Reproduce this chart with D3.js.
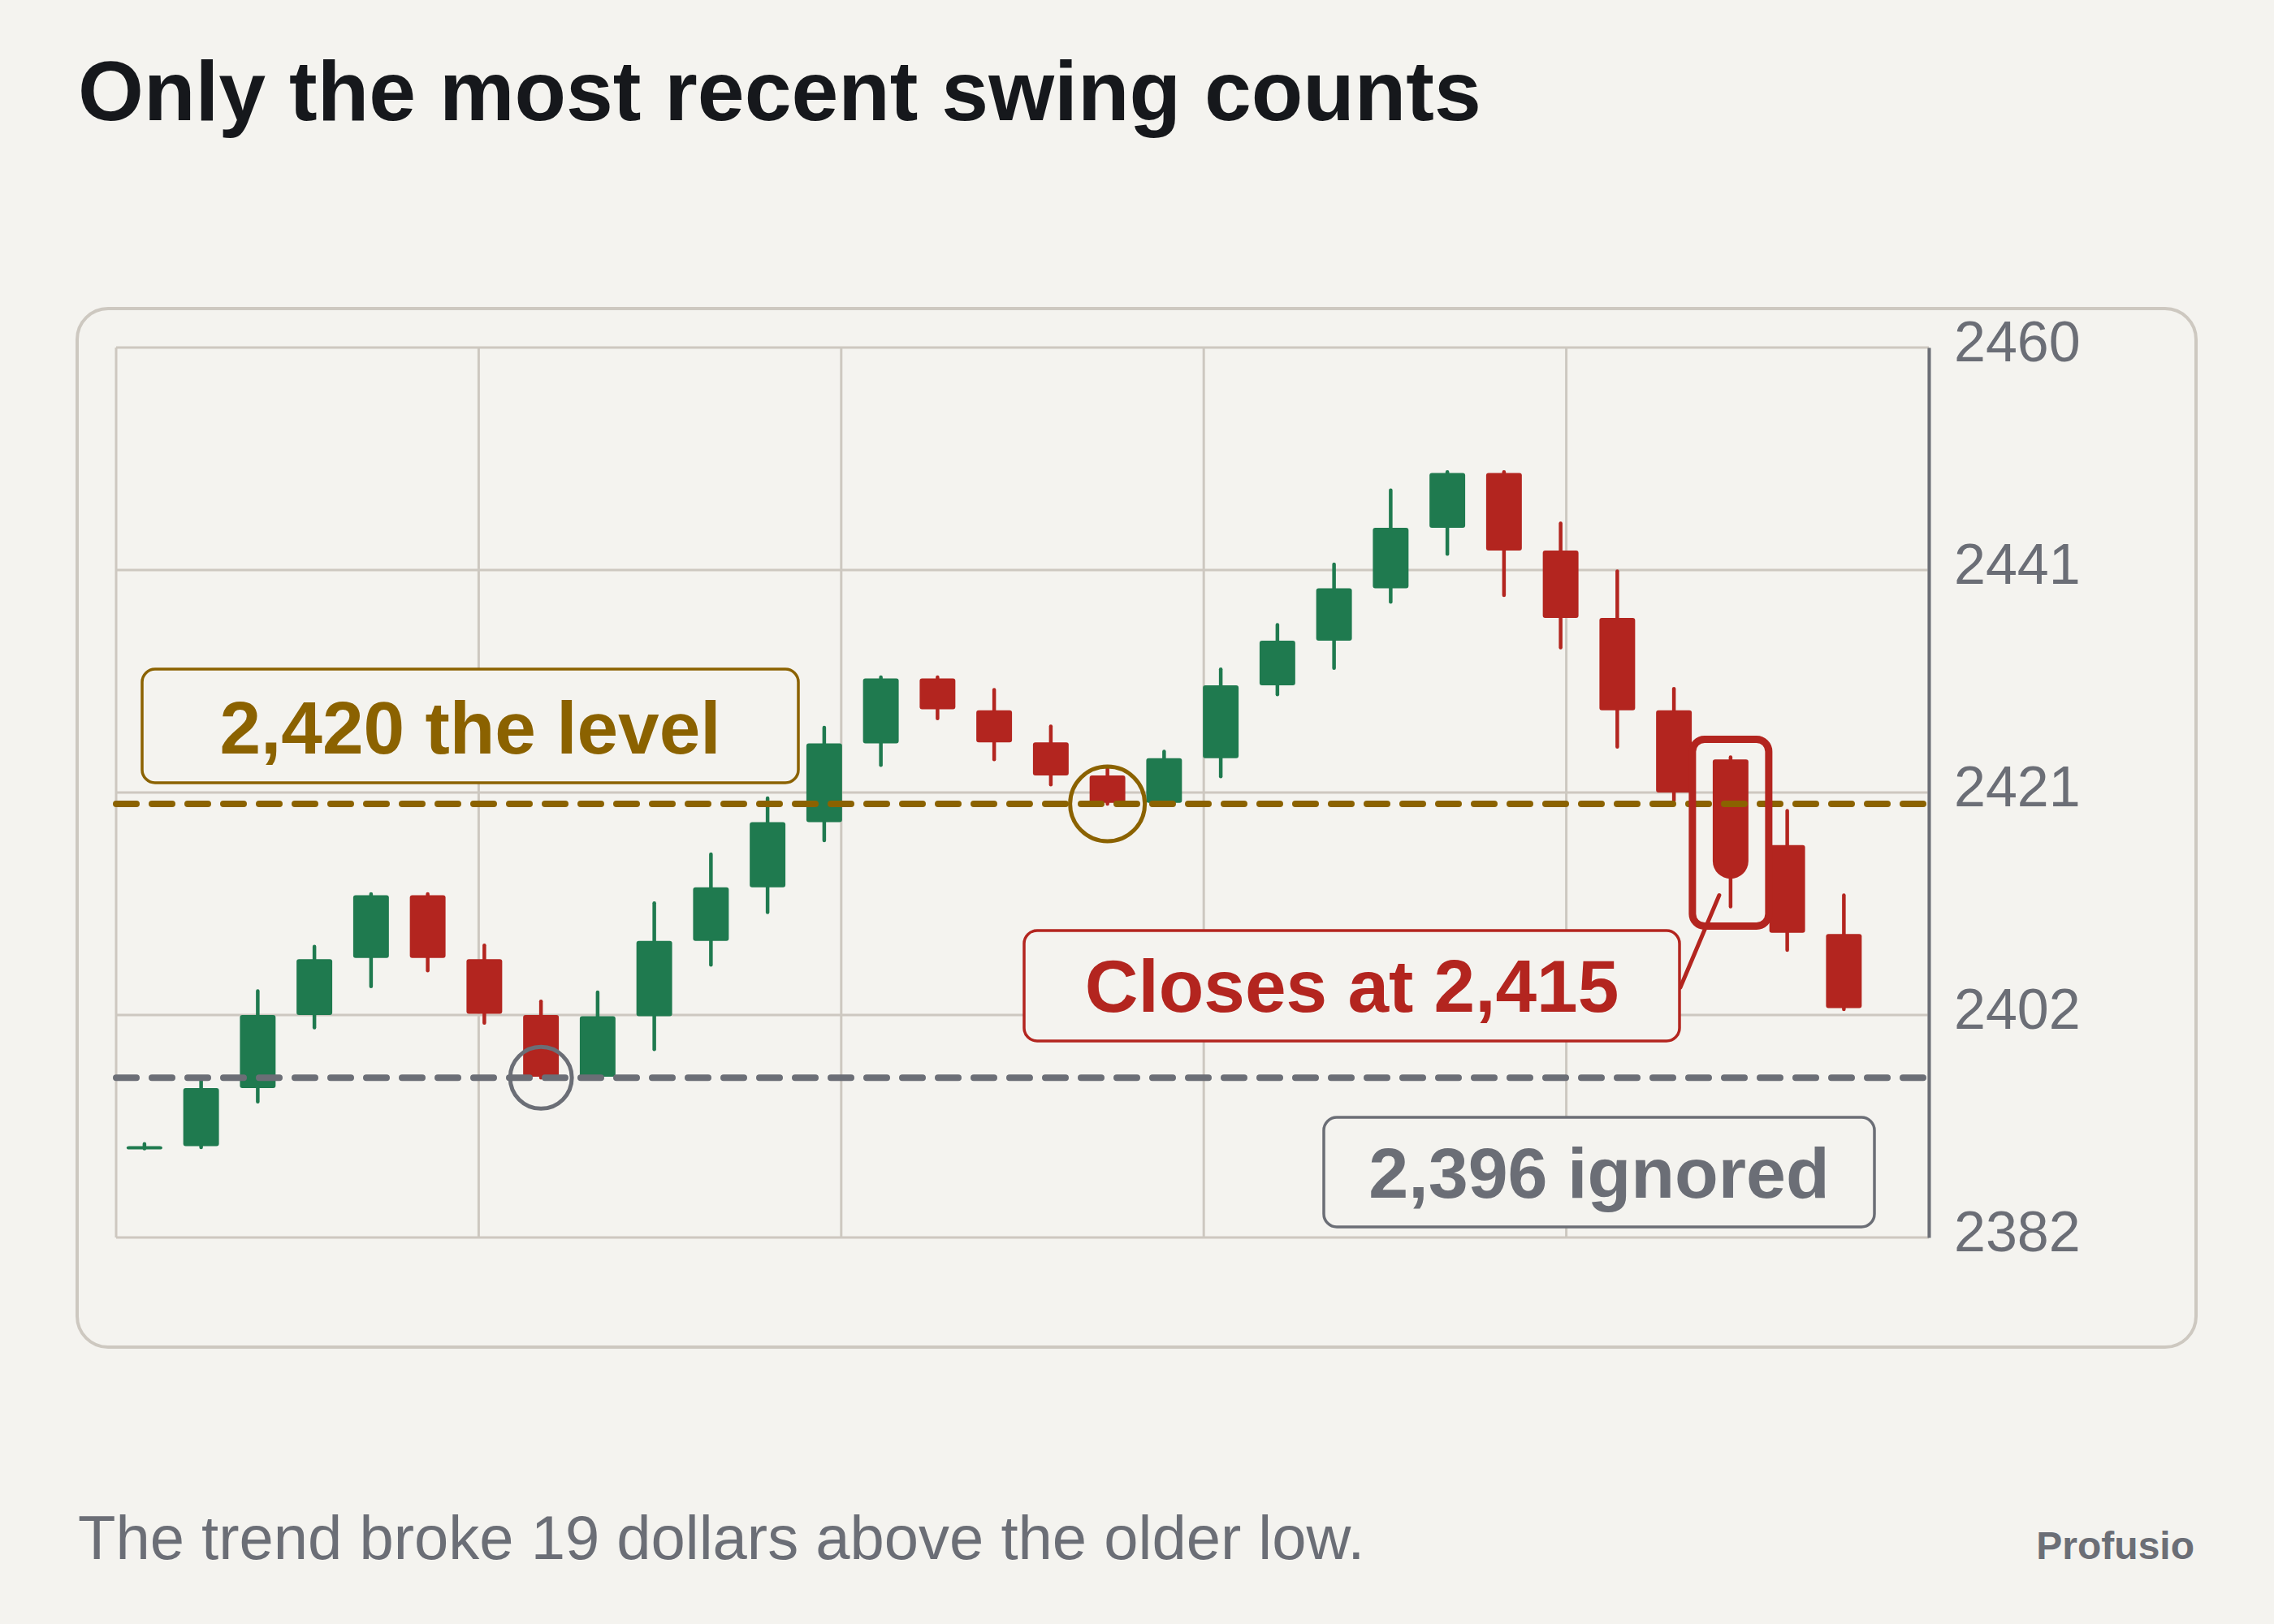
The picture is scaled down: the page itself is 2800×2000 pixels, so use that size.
<!DOCTYPE html>
<html>
<head>
<meta charset="utf-8">
<script src="https://cdn.jsdelivr.net/npm/d3@7"></script>
<style>
    html, body { margin: 0; padding: 0; background: #f4f3ef; }
    svg { display: block; }
</style>
</head>
<body>
<div id="chart"></div>
<script>
// candle values, one entry per session
const opens  = [2389.9, 2390.0, 2395.1, 2401.5, 2406.5, 2412.0, 2406.4, 2401.5, 2396.1, 2401.4, 2408.0,
                2412.7, 2418.4, 2425.3, 2431.0, 2428.2, 2425.4, 2422.5, 2420.1, 2424.0, 2430.4, 2434.3,
                2438.9, 2444.2, 2449.0, 2442.2, 2436.3, 2428.2, 2423.9, 2416.4, 2408.6];
const highs  = [2390.2, 2396.0, 2403.6, 2407.5, 2412.1, 2412.1, 2407.6, 2402.7, 2403.5, 2411.3, 2415.6,
                2420.5, 2426.7, 2431.1, 2431.1, 2430.0, 2426.8, 2423.1, 2424.6, 2431.8, 2435.7, 2441.0,
                2447.5, 2449.1, 2449.1, 2444.6, 2440.4, 2430.1, 2424.1, 2419.4, 2412.0];
const lows   = [2389.8, 2389.9, 2393.9, 2400.4, 2404.0, 2405.4, 2400.8, 2396.0, 2396.0, 2398.5, 2405.9,
                2410.5, 2416.8, 2423.4, 2427.5, 2423.9, 2421.7, 2420.0, 2420.0, 2422.4, 2429.6, 2431.9,
                2437.7, 2441.9, 2438.3, 2433.7, 2425.0, 2420.3, 2411.0, 2407.2, 2402.0];
const closes = [2390.0, 2395.1, 2401.5, 2406.4, 2412.0, 2406.5, 2401.6, 2396.1, 2401.4, 2408.0, 2412.7,
                2418.4, 2425.3, 2431.0, 2428.3, 2425.4, 2422.5, 2420.1, 2424.0, 2430.4, 2434.3, 2438.9,
                2444.2, 2449.0, 2442.2, 2436.3, 2428.2, 2421.0, 2415.0, 2408.7, 2402.1];

const yDomain = [2382, 2460];
const yTickCount = 5;

const levelValues = [2420, 2396];
const levelKinds = ["level", "ignored"];

const swingIndexes = [7, 17];
const swingValues = [2396, 2420];
const swingKinds = ["ignored", "level"];

const breakIndex = 28;

const labelTexts = ["2,420 the level", "Closes at 2,415", "2,396 ignored"];
const titleText = "Only the most recent swing counts";
const footerText = "The trend broke 19 dollars above the older low.";
const brandText = "Profusio";

const colors = {
    bg: "#f4f3ef",
    up: "#1f7a4f",
    down: "#b3251f",
    gold: "#8b6200",
    gray: "#6b6e76",
    grid: "#cdc8c0",
    ink: "#16181c",
};
const kindColor = { level: colors.gold, ignored: colors.gray };

const W = 2800, H = 2000;
const font = "'Liberation Sans', Arial, Helvetica, sans-serif";

const candles = opens.map((o, i) => ({
    i: i,
    open: o,
    high: highs[i],
    low: lows[i],
    close: closes[i],
}));

const svg = d3.select("#chart")
    .append("svg")
    .attr("width", W)
    .attr("height", H);

svg.append("rect")
    .attr("width", W)
    .attr("height", H)
    .attr("fill", colors.bg);

// title
svg.append("text")
    .attr("x", 96)
    .attr("y", 148)
    .style("font-family", font)
    .style("font-size", "104px")
    .style("font-weight", "bold")
    .style("fill", colors.ink)
    .text(titleText);

// panel
svg.append("rect")
    .attr("x", 95)
    .attr("y", 380)
    .attr("width", 2609)
    .attr("height", 1279)
    .attr("rx", 38)
    .attr("fill", colors.bg)
    .attr("stroke", colors.grid)
    .attr("stroke-width", 4);

const plot = { left: 143, right: 2375, top: 428, bottom: 1524 };

const x = d3.scaleLinear()
    .domain([-0.5, candles.length + 0.5])
    .range([plot.left, plot.right]);

const y = d3.scaleLinear()
    .domain(yDomain)
    .range([plot.bottom, plot.top]);

const step = x(1) - x(0);
const bodyW = step * 0.63;

const yTicks = d3.range(yTickCount).map((k) => yDomain[0] + k * (yDomain[1] - yDomain[0]) / (yTickCount - 1));
const xGrid = d3.range(6).map((k) => plot.left + k * (plot.right - plot.left) / 5);

const g = svg.append("g");

// grid
g.selectAll(".hgrid")
    .data(yTicks)
    .enter()
    .append("line")
    .attr("x1", plot.left)
    .attr("x2", plot.right)
    .attr("y1", (d) => y(d))
    .attr("y2", (d) => y(d))
    .attr("stroke", colors.grid)
    .attr("stroke-width", 3);

g.selectAll(".vgrid")
    .data(xGrid)
    .enter()
    .append("line")
    .attr("x1", (d) => d)
    .attr("x2", (d) => d)
    .attr("y1", plot.top)
    .attr("y2", plot.bottom)
    .attr("stroke", colors.grid)
    .attr("stroke-width", 3);

// right axis
const yAxis = g.append("g")
    .attr("transform", `translate(${plot.right},0)`)
    .call(d3.axisRight(y).tickValues(yTicks).tickSize(0).tickPadding(31).tickFormat((d) => Math.round(d)));

yAxis.select(".domain")
    .attr("stroke", colors.gray)
    .attr("stroke-width", 4);

yAxis.selectAll("text")
    .attr("dy", "0.235em")
    .style("font-family", font)
    .style("font-size", "70px")
    .style("fill", colors.gray);

// candles
const candleG = g.selectAll(".candle")
    .data(candles)
    .enter()
    .append("g")
    .attr("class", "candle");

candleG.append("line")
    .attr("x1", (d) => x(d.i))
    .attr("x2", (d) => x(d.i))
    .attr("y1", (d) => y(d.high))
    .attr("y2", (d) => y(d.low))
    .attr("stroke", (d) => (d.close >= d.open ? colors.up : colors.down))
    .attr("stroke-width", 4.5)
    .attr("stroke-linecap", "round");

candleG.filter((d) => d.i !== breakIndex)
    .append("rect")
    .attr("x", (d) => x(d.i) - bodyW / 2)
    .attr("y", (d) => y(Math.max(d.open, d.close)))
    .attr("width", bodyW)
    .attr("height", (d) => Math.max(4, Math.abs(y(d.open) - y(d.close))))
    .attr("rx", 3)
    .attr("fill", (d) => (d.close >= d.open ? colors.up : colors.down));

// the breaking candle gets a rounded close
const bc = candles[breakIndex];
const bx0 = x(bc.i) - bodyW / 2;
const bx1 = x(bc.i) + bodyW / 2;
const bTop = y(bc.open);
const bBot = y(bc.close);
const capH = 22;
g.append("path")
    .attr("d", `M${bx0},${bTop + 3} Q${bx0},${bTop} ${bx0 + 3},${bTop} L${bx1 - 3},${bTop} Q${bx1},${bTop} ${bx1},${bTop + 3}
        L${bx1},${bBot} A${bodyW / 2},${capH} 0 0 1 ${bx0},${bBot} Z`)
    .attr("fill", colors.down);

// levels
g.selectAll(".level")
    .data(levelValues)
    .enter()
    .append("line")
    .attr("x1", plot.left)
    .attr("x2", plot.right)
    .attr("y1", (d) => y(d))
    .attr("y2", (d) => y(d))
    .attr("stroke", (d, i) => kindColor[levelKinds[i]])
    .attr("stroke-width", 8)
    .attr("stroke-dasharray", "25 19")
    .attr("stroke-linecap", "round");

// swing circles
g.selectAll(".swing")
    .data(swingIndexes)
    .enter()
    .append("circle")
    .attr("cx", (d) => x(d))
    .attr("cy", (d, i) => y(swingValues[i]))
    .attr("r", (d, i) => (swingKinds[i] === "level" ? 46 : 38))
    .attr("fill", "none")
    .attr("stroke", (d, i) => kindColor[swingKinds[i]])
    .attr("stroke-width", 5);

// highlight around the breaking candle
const hbTop = y(bc.high) - 22;
const hbBot = y(bc.low) + 24;
g.append("rect")
    .attr("x", x(bc.i) - 47)
    .attr("y", hbTop)
    .attr("width", 94)
    .attr("height", hbBot - hbTop)
    .attr("rx", 15)
    .attr("fill", "none")
    .attr("stroke", colors.down)
    .attr("stroke-width", 9);

// connector from label to highlight
g.append("line")
    .attr("x1", 2069)
    .attr("y1", 1216)
    .attr("x2", x(bc.i) - 14)
    .attr("y2", hbBot - 38)
    .attr("stroke", colors.down)
    .attr("stroke-width", 5)
    .attr("stroke-linecap", "round");

// labels
const labels = [
    { text: labelTexts[0], x0: 175, x1: 983, y0: 824, y1: 964, color: colors.gold, size: 91 },
    { text: labelTexts[1], x0: 1261, x1: 2068, y0: 1146, y1: 1282, color: colors.down, size: 91 },
    { text: labelTexts[2], x0: 1630, x1: 2308, y0: 1376, y1: 1511, color: colors.gray, size: 88 },
];

const labelG = g.selectAll(".label")
    .data(labels)
    .enter()
    .append("g");

labelG.append("rect")
    .attr("x", (d) => d.x0)
    .attr("y", (d) => d.y0)
    .attr("width", (d) => d.x1 - d.x0)
    .attr("height", (d) => d.y1 - d.y0)
    .attr("rx", 16)
    .attr("fill", colors.bg)
    .attr("stroke", (d) => d.color)
    .attr("stroke-width", 3.5);

labelG.append("text")
    .attr("x", (d) => (d.x0 + d.x1) / 2)
    .attr("y", (d) => d.y1 - 36)
    .attr("text-anchor", "middle")
    .style("font-family", font)
    .style("font-size", (d) => d.size + "px")
    .style("font-weight", "bold")
    .style("fill", (d) => d.color)
    .text((d) => d.text);

// footer
svg.append("text")
    .attr("x", 96)
    .attr("y", 1920)
    .style("font-family", font)
    .style("font-size", "76px")
    .style("fill", colors.gray)
    .text(footerText);

svg.append("text")
    .attr("x", 2702)
    .attr("y", 1920)
    .attr("text-anchor", "end")
    .style("font-family", font)
    .style("font-size", "48px")
    .style("font-weight", "bold")
    .style("fill", colors.gray)
    .text(brandText);
</script>
</body>
</html>
